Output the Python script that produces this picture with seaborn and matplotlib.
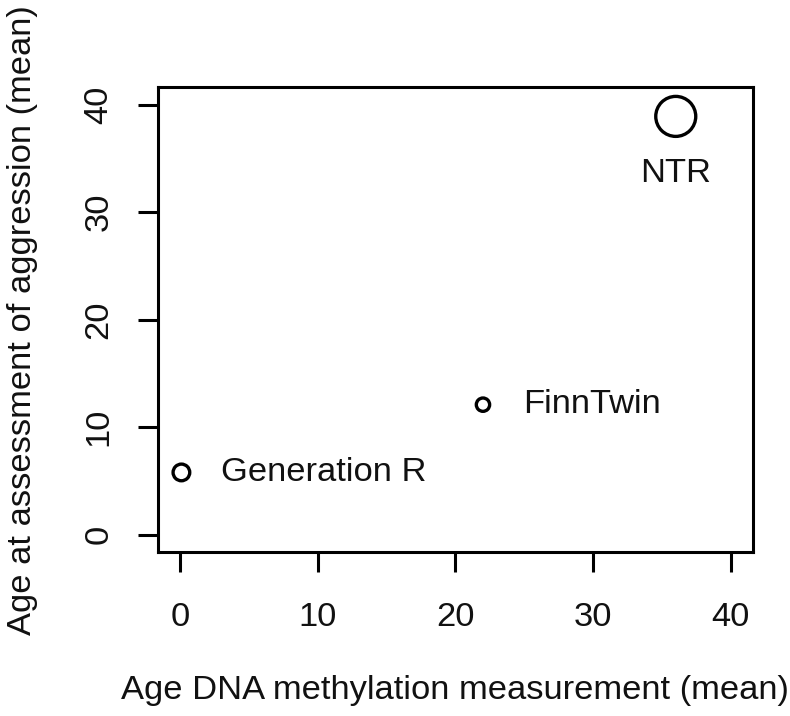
import matplotlib
matplotlib.use("Agg")
import matplotlib.pyplot as plt
import seaborn as sns
import pandas as pd

# Données
cohorts = ["Generation R", "FinnTwin", "NTR"]
age_methylation = [0.1, 22.0, 36.0]
age_aggression = [5.8, 12.1, 38.9]
point_cex = [1.25, 1.0, 3.0]
label_side = ["right", "right", "below"]

x_ticks = [0, 10, 20, 30, 40]
y_ticks = [0, 10, 20, 30, 40]

df = pd.DataFrame({
    "cohort": cohorts,
    "x": age_methylation,
    "y": age_aggression,
    "cex": point_cex,
    "side": label_side,
})

sns.set_style("ticks")
plt.rcParams["font.family"] = ["Liberation Sans", "DejaVu Sans"]

FS = 24.8

fig = plt.figure(figsize=(7.9, 7.16), dpi=100)
ax = fig.add_axes([0.2, 0.229, 0.753, 0.649])

# On dessine les cercles avec une taille proportionnelle au cex
sizes = [(c * 9.6) ** 2 for c in df["cex"]]
sns.scatterplot(data=df, x="x", y="y", ax=ax, s=sizes, facecolor="none",
                edgecolor="black", linewidth=2.4, marker="o", legend=False)

for _, row in df.iterrows():
    if row["side"] == "right":
        ax.annotate(row["cohort"], (row["x"], row["y"]), xytext=(40, 0),
                    textcoords="offset pixels", ha="left", va="center",
                    fontsize=FS, color="#111111")
    else:
        ax.annotate(row["cohort"], (row["x"], row["y"]), xytext=(0, -57),
                    textcoords="offset pixels", ha="center", va="center",
                    fontsize=FS, color="#111111")

ax.set_xlim(-1.6, 41.6)
ax.set_ylim(-1.6, 41.6)
ax.set_xticks(x_ticks)
ax.set_yticks(y_ticks)
ax.tick_params(axis="both", direction="out", length=14.4, width=2.2,
               labelsize=FS, color="black", labelcolor="#111111")
ax.tick_params(axis="x", pad=21.5)
ax.tick_params(axis="y", labelrotation=90, pad=17)
for lab in ax.get_yticklabels():
    lab.set_va("center")

for sp in ax.spines.values():
    sp.set_visible(True)
    sp.set_linewidth(2.2)
    sp.set_color("black")

ax.set_xlabel("Age DNA methylation measurement (mean)", fontsize=FS, color="#111111")
ax.set_ylabel("Age at assessment of aggression (mean)", fontsize=FS, color="#111111")
ax.xaxis.set_label_coords(0.5, -0.265)
ax.yaxis.set_label_coords(-0.202, 0.5)

fig.savefig("out.png", dpi=100, facecolor="white")
